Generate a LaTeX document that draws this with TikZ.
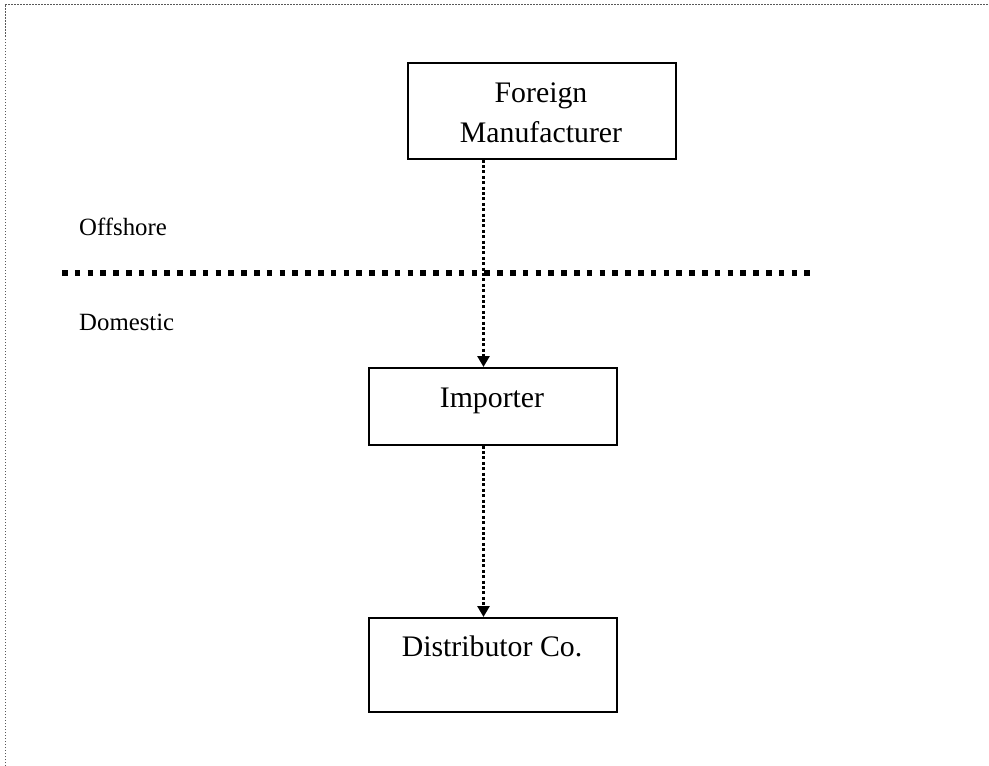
\documentclass[tikz,border=0pt]{standalone}
\usepackage{fontspec}
\setmainfont{Liberation Serif}
\usetikzlibrary{arrows.meta}
\begin{document}
\begin{tikzpicture}[x=1pt,y=-1pt,
  box/.style={draw=black, line width=1.6pt, rectangle, inner sep=0pt, anchor=north west},
  boxtext/.style={anchor=base, inner sep=0pt, font=\fontsize{29.8}{36}\selectfont},
  sidetext/.style={anchor=base west, inner sep=0pt, font=\fontsize{24.8}{30}\selectfont},
  flow/.style={line width=3pt, dash pattern=on 3pt off 2.4pt,
    -{Triangle[width=12pt,length=11pt]}},
  border/.style={line width=1pt, draw=black!65, dash pattern=on 1.5pt off 1.5pt}]
  \useasboundingbox (0,0) rectangle (989,766);

  % page frame (left and top edges)
  \draw[border] (5,766) -- (5,4) -- (989,4);

  % boxes
  \node[box, minimum width=268pt, minimum height=96pt] (fm) at (407,62) {};
  \node[box, minimum width=248pt, minimum height=77pt] (imp) at (368,367) {};
  \node[box, minimum width=248pt, minimum height=94pt] (dist) at (368,617) {};

  % box labels
  \node[boxtext] (fmA) at (541,102) {Foreign};
  \node[boxtext] (fmB) at (541,142) {Manufacturer};
  \node[boxtext] (impT) at (492,407) {Importer};
  \node[boxtext] (distT) at (492,656) {Distributor Co.};

  % offshore / domestic divide
  \coordinate (divL) at (62,273);
  \coordinate (divR) at (810,273);
  \draw[line width=5.5pt, dash pattern=on 5.5pt off 7.3pt] (divL) -- (divR);
  \node[sidetext] (off) at (79,235) {Offshore};
  \node[sidetext] (dom) at (79,330) {Domestic};

  % flow arrows
  \coordinate (ax) at (483.5,0);
  \draw[flow] (ax |- fm.south) -- (ax |- imp.north);
  \draw[flow] (ax |- imp.south) -- (ax |- dist.north);
\end{tikzpicture}
\end{document}
